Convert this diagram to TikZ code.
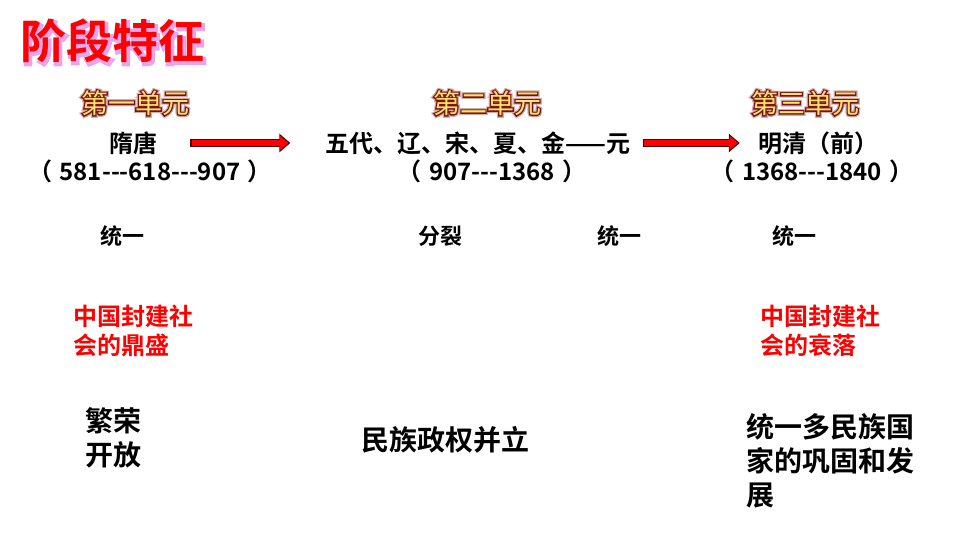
\documentclass[tikz,border=0pt]{standalone}
\usepackage{fontspec}
\usepackage{tikz}
\usetikzlibrary{arrows.meta}
\newfontfamily\cjk{Noto Sans CJK SC}[BoldFont={Noto Sans CJK SC Bold}]
\newfontfamily\rimfont{Noto Sans CJK SC}[FakeBold=9]
\newfontfamily\haloFont{Noto Sans CJK SC}[FakeBold=18]
\newfontfamily\titlehalo{Noto Sans CJK SC Bold}[FakeBold=7]
\definecolor{unitgold}{HTML}{FFE36A}
\definecolor{unitrim}{HTML}{7A1212}
\definecolor{arrowrim}{HTML}{4A0808}
\definecolor{titleglow}{HTML}{E7A6EC}

% heading of a unit: gold letters on a dark red rim
\newcommand{\unithead}[3]{%
  \node[font=\haloFont\fontsize{27}{30}\selectfont, text=unitrim!35] at (#2) {#3};
  \node[font=\rimfont\fontsize{27}{30}\selectfont, text=unitrim] at (#2) {#3};
  \node[unitfont, text=unitgold] (#1) at (#2) {#3};}

\begin{document}
\begin{tikzpicture}[x=1pt, y=-1pt,
    every node/.style={inner sep=0pt, font=\cjk},
    unitfont/.style={font=\cjk\fontsize{27}{30}\selectfont},
    era/.style={font=\cjk\bfseries\fontsize{24}{26}\selectfont},
    span/.style={font=\cjk\bfseries\fontsize{24}{26}\selectfont},
    trend/.style={font=\cjk\bfseries\fontsize{22}{24}\selectfont},
    verdict/.style={font=\cjk\bfseries\fontsize{24}{29}\selectfont, text=red, align=left, anchor=west},
    feature/.style={font=\cjk\bfseries\fontsize{28}{34}\selectfont, align=left, anchor=west},
    rimarrow/.style={line width=8.5pt, draw=arrowrim, -{Triangle[length=11pt,width=18pt]}},
    fillarrow/.style={line width=5.5pt, draw=red, -{Triangle[length=8.5pt,width=13.5pt]}}]

  \useasboundingbox (0,0) rectangle (960,540);

  % title
  \node[font=\titlehalo\fontsize{46}{50}\selectfont, text=titleglow] at (114,43) {阶段特征};
  \node[font=\cjk\bfseries\fontsize{46}{50}\selectfont, text=red] (title) at (112,41) {阶段特征};

  % units
  \unithead{unitA}{135,103}{第一单元}
  \unithead{unitB}{487,103}{第二单元}
  \unithead{unitC}{805,103}{第三单元}

  \node[era] (suitang) at (133,143) {隋唐};
  \node[span] (suitangY) at (150,171) {（\hspace{0.3em}581---618---907\hspace{0.3em}）};
  \node[era] (wudai) at (478,143) {五代、辽、宋、夏、金——元};
  \node[span] (wudaiY) at (492,171) {（\hspace{0.3em}907---1368\hspace{0.3em}）};
  \node[era] (mingqing) at (818,143) {明清（前）};
  \node[span] (mingqingY) at (812,171) {（\hspace{0.3em}1368---1840\hspace{0.3em}）};

  \draw[rimarrow, shorten <=33pt, shorten >=35pt] (suitang.east) -- (wudai.west);
  \draw[fillarrow, shorten <=34.5pt, shorten >=36.8pt] (suitang.east) -- (wudai.west);
  \draw[rimarrow, shorten <=12pt, shorten >=18pt] (wudai.east) -- (mingqing.west);
  \draw[fillarrow, shorten <=13.5pt, shorten >=19.8pt] (wudai.east) -- (mingqing.west);

  % trends
  \node[trend] (tongA) at (122,236) {统一};
  \node[trend] (fenlie) at (440,236) {分裂};
  \node[trend] (tongB) at (619,236) {统一};
  \node[trend] (tongC) at (794,236) {统一};

  \node[verdict] (peak) at (73,331) {中国封建社\\会的鼎盛};
  \node[verdict] (decline) at (760,331) {中国封建社\\会的衰落};

  \node[feature] (open) at (85,438) {繁荣\\开放};
  \node[feature, anchor=center] (coexist) at (445,440) {民族政权并立};
  \node[feature] (unity) at (746,461) {统一多民族国\\家的巩固和发\\展};

\end{tikzpicture}
\end{document}
